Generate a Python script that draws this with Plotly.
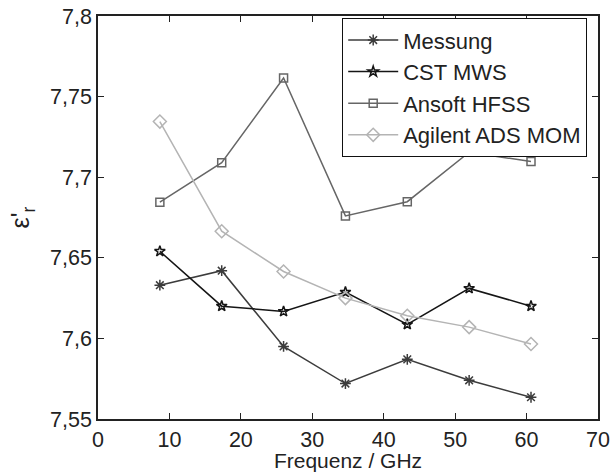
import plotly.graph_objects as go

freq = [8.66, 17.32, 25.98, 34.64, 43.3, 51.96, 60.62]
messung = [7.633, 7.642, 7.595, 7.572, 7.587, 7.574, 7.5635]
cst_mws = [7.654, 7.620, 7.6167, 7.6287, 7.6087, 7.631, 7.620]
ansoft_hfss = [7.6845, 7.709, 7.7615, 7.676, 7.6848, 7.7155, 7.7097]
agilent_ads = [7.7345, 7.6665, 7.6415, 7.625, 7.614, 7.607, 7.5965]

x_ticks = [0, 10, 20, 30, 40, 50, 60, 70]
x_ticktext = ["0", "10", "20", "30", "40", "50", "60", "70"]
y_ticks = [7.55, 7.6, 7.65, 7.7, 7.75, 7.8]
y_ticktext = ["7,55", "7,6", "7,65", "7,7", "7,75", "7,8"]

series = [
    ("Messung", messung, "#3c3c3c", "asterisk-open", 9),
    ("CST MWS", cst_mws, "#151515", "star-open", 8),
    ("Ansoft HFSS", ansoft_hfss, "#666666", "square-open", 8),
    ("Agilent ADS MOM", agilent_ads, "#b4b4b4", "diamond-open", 10),
]

FONT = "Liberation Sans, Arial, sans-serif"

fig = go.Figure()
for name, vals, col, sym, sz in series:
    fig.add_trace(go.Scatter(
        x=freq, y=vals, name=name, mode="lines+markers",
        line=dict(color=col, width=1.5),
        marker=dict(symbol=sym, size=sz, color=col, line=dict(color=col, width=1.5)),
    ))

axis_common = dict(
    showgrid=False, zeroline=False, showline=True, linecolor="#222222", linewidth=1.5,
    mirror="ticks", ticks="inside", ticklen=6, tickwidth=1, tickcolor="#222222",
    automargin=False,
    tickfont=dict(family=FONT, size=21.5, color="#222222"),
)

fig.update_layout(
    width=612, height=472, autosize=False,
    margin=dict(l=98, r=14, t=16, b=53, autoexpand=False),
    paper_bgcolor="white", plot_bgcolor="white",
    font=dict(family=FONT, size=21.5, color="#222222"),
    xaxis=dict(range=[0, 70], tickvals=x_ticks, ticktext=x_ticktext,
               title=dict(text="Frequenz / GHz", standoff=3, font=dict(size=21)), **axis_common),
    yaxis=dict(range=[7.55, 7.8], tickvals=y_ticks, ticktext=y_ticktext,
               title=dict(text="ε'<sub>r</sub>", standoff=13, font=dict(size=25)), **axis_common),
    legend=dict(x=0.488, y=0.995, xanchor="left", yanchor="top",
                bgcolor="white", bordercolor="#111111", borderwidth=1.2,
                font=dict(size=22), tracegroupgap=0, itemwidth=50),
    showlegend=True,
)

fig.write_html("out.html", config={"displayModeBar": False},
               post_script="document.body.style.margin='0';document.body.style.overflow='hidden';")
